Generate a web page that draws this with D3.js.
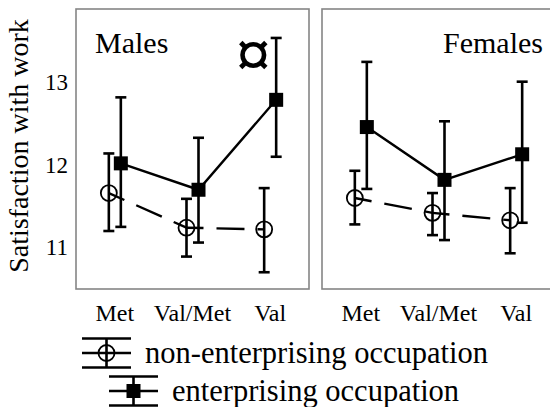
<!DOCTYPE html>
<html>
<head>
<meta charset="utf-8">
<script src="https://cdn.jsdelivr.net/npm/d3@7"></script>
<style>
  body { margin: 0; background: #fff; }
  svg text { font-family: "Liberation Serif", "Tinos", "Times New Roman", "DejaVu Serif", serif; }
</style>
</head>
<body>
<div id="chart"></div>
<script>
/* DATA */
const categories = ["Met", "Val/Met", "Val"];
const panels = ["Males", "Females"];
const seriesNames = ["non-enterprising occupation", "enterprising occupation"];
const yTicks = [11, 12, 13];

// Males
const maleNonMean = [11.66, 11.24, 11.22];
const maleNonLow  = [11.20, 10.89, 10.70];
const maleNonHigh = [12.14, 11.59, 11.72];
const maleEntMean = [12.02, 11.70, 12.79];
const maleEntLow  = [11.25, 11.06, 12.10];
const maleEntHigh = [12.82, 12.33, 13.54];

// Females
const femaleNonMean = [11.60, 11.42, 11.33];
const femaleNonLow  = [11.28, 11.15, 10.93];
const femaleNonHigh = [11.93, 11.66, 11.72];
const femaleEntMean = [12.46, 11.82, 12.13];
const femaleEntLow  = [11.71, 11.09, 11.30];
const femaleEntHigh = [13.25, 12.53, 13.01];

/* CONSTANTS */
const width = 550,
      height = 407,
      panelW = 233,
      panelTop = 9,
      panelBottom = 289,
      panelLeft = [76, 322],
      dodge = 6,
      capW = 11,
      serif = '"Liberation Serif", "Tinos", "Times New Roman", "DejaVu Serif", serif';

const build = (mean, lo, hi) => categories.map((c, i) => ({cat: c, mean: mean[i], lo: lo[i], hi: hi[i]}));

const panelData = [
  { name: panels[0], non: build(maleNonMean, maleNonLow, maleNonHigh),       ent: build(maleEntMean, maleEntLow, maleEntHigh) },
  { name: panels[1], non: build(femaleNonMean, femaleNonLow, femaleNonHigh), ent: build(femaleEntMean, femaleEntLow, femaleEntHigh) }
];

/* SCALES */
const yScale = d3.scaleLinear()
  .domain([10.497, 13.891])
  .range([panelBottom, panelTop]);

const xScale = d3.scaleBand()
  .domain(categories)
  .range([0, panelW]);

const svg = d3.select("#chart")
  .append("svg")
  .attr("width", width)
  .attr("height", height);

// y axis title
svg.append("text")
  .attr("transform", `translate(28, ${(panelTop + panelBottom) / 2 - 3}) rotate(-90)`)
  .attr("text-anchor", "middle")
  .attr("font-size", 28)
  .text("Satisfaction with work");

// y axis labels (left panel only)
const gy = svg.append("g")
  .attr("transform", `translate(${panelLeft[0]}, 0)`)
  .call(d3.axisLeft(yScale).tickValues(yTicks).tickSize(0).tickPadding(8).tickFormat(d3.format("d")));
gy.attr("font-family", serif);
gy.select(".domain").remove();
gy.selectAll("text")
  .attr("font-size", 23)
  .attr("fill", "#000");

panelData.forEach((p, pi) => {
  const g = svg.append("g")
    .attr("transform", `translate(${panelLeft[pi]}, 0)`);

  // panel frame
  g.append("rect")
    .attr("x", 0)
    .attr("y", panelTop)
    .attr("width", panelW)
    .attr("height", panelBottom - panelTop)
    .attr("fill", "none")
    .attr("stroke", "#858585")
    .attr("stroke-width", 1.6);

  // x labels
  const gx = g.append("g")
    .attr("transform", `translate(0, ${panelBottom})`)
    .call(d3.axisBottom(xScale).tickSize(0).tickPadding(15));
  gx.attr("font-family", serif);
  gx.select(".domain").remove();
  gx.selectAll("text")
    .attr("font-size", 24)
    .attr("fill", "#000");

  const cx = d => xScale(d.cat) + xScale.bandwidth() / 2;

  // panel title
  g.append("text")
    .attr("x", pi === 0 ? 19 : panelW - 12)
    .attr("y", 53)
    .attr("text-anchor", pi === 0 ? "start" : "end")
    .attr("font-size", 30)
    .text(p.name);

  // dashed line for non-enterprising, drawn segment by segment
  d3.pairs(p.non).forEach(([a, b]) => {
    g.append("line")
      .attr("x1", cx(a) - dodge).attr("y1", yScale(a.mean))
      .attr("x2", cx(b) - dodge).attr("y2", yScale(b.mean))
      .attr("stroke", "#000")
      .attr("stroke-width", 2.4)
      .attr("stroke-dasharray", "28,13")
      .attr("stroke-dashoffset", 11);
  });

  // solid line for enterprising
  g.append("path")
    .datum(p.ent)
    .attr("fill", "none")
    .attr("stroke", "#000")
    .attr("stroke-width", 2.4)
    .attr("d", d3.line().x(d => cx(d) + dodge).y(d => yScale(d.mean)));

  // error bars
  [["non", -dodge], ["ent", dodge]].forEach(([key, off]) => {
    const eb = g.selectAll(`.eb-${key}`)
      .data(p[key])
      .join("g")
      .attr("class", `eb-${key}`)
      .attr("stroke", "#000")
      .attr("stroke-width", 2.6);
    eb.append("line")
      .attr("x1", d => cx(d) + off).attr("x2", d => cx(d) + off)
      .attr("y1", d => yScale(d.lo)).attr("y2", d => yScale(d.hi));
    eb.append("line")
      .attr("x1", d => cx(d) + off - capW / 2).attr("x2", d => cx(d) + off + capW / 2)
      .attr("y1", d => yScale(d.lo)).attr("y2", d => yScale(d.lo));
    eb.append("line")
      .attr("x1", d => cx(d) + off - capW / 2).attr("x2", d => cx(d) + off + capW / 2)
      .attr("y1", d => yScale(d.hi)).attr("y2", d => yScale(d.hi));
  });

  // points
  g.selectAll(".pt-non")
    .data(p.non)
    .join("circle")
    .attr("class", "pt-non")
    .attr("cx", d => cx(d) - dodge)
    .attr("cy", d => yScale(d.mean))
    .attr("r", 8)
    .attr("fill", "none")
    .attr("stroke", "#000")
    .attr("stroke-width", 1.8);

  g.selectAll(".pt-ent")
    .data(p.ent)
    .join("rect")
    .attr("class", "pt-ent")
    .attr("x", d => cx(d) + dodge - 7)
    .attr("y", d => yScale(d.mean) - 7)
    .attr("width", 14)
    .attr("height", 14)
    .attr("fill", "#000");

  // significance marker on males / Val
  if (pi === 0) {
    g.append("text")
      .attr("x", cx(p.ent[2]) - 17)
      .attr("y", 61)
      .attr("text-anchor", "middle")
      .attr("dominant-baseline", "middle")
      .attr("font-size", 68)
      .attr("font-weight", "bold")
      .text("\u00A4");
  }
});

/* LEGEND */
const legend = [
  { name: seriesNames[0], x: 82,  y: 353, shape: "circle" },
  { name: seriesNames[1], x: 109, y: 391, shape: "square" }
];
legend.forEach(l => {
  const lg = svg.append("g").attr("transform", `translate(${l.x}, ${l.y})`);
  const kw = 49, half = 14.5;
  lg.append("line").attr("x1", 0).attr("x2", kw).attr("y1", -half).attr("y2", -half)
    .attr("stroke", "#000").attr("stroke-width", 2.6);
  lg.append("line").attr("x1", 0).attr("x2", kw).attr("y1", half).attr("y2", half)
    .attr("stroke", "#000").attr("stroke-width", 2.6);
  lg.append("line").attr("x1", 0).attr("x2", kw).attr("y1", 0).attr("y2", 0)
    .attr("stroke", "#000").attr("stroke-width", 2.4);
  lg.append("line").attr("x1", kw / 2).attr("x2", kw / 2).attr("y1", -half).attr("y2", half)
    .attr("stroke", "#000").attr("stroke-width", 2.6);
  if (l.shape === "circle") {
    lg.append("circle").attr("cx", kw / 2).attr("cy", 0).attr("r", 8)
      .attr("fill", "none").attr("stroke", "#000").attr("stroke-width", 1.8);
  } else {
    lg.append("rect").attr("x", kw / 2 - 7).attr("y", -7).attr("width", 14).attr("height", 14)
      .attr("fill", "#000");
  }
  lg.append("text")
    .attr("x", kw + 14)
    .attr("y", 0)
    .attr("dominant-baseline", "central")
    .attr("font-size", 30.5)
    .text(l.name);
});
</script>
</body>
</html>
